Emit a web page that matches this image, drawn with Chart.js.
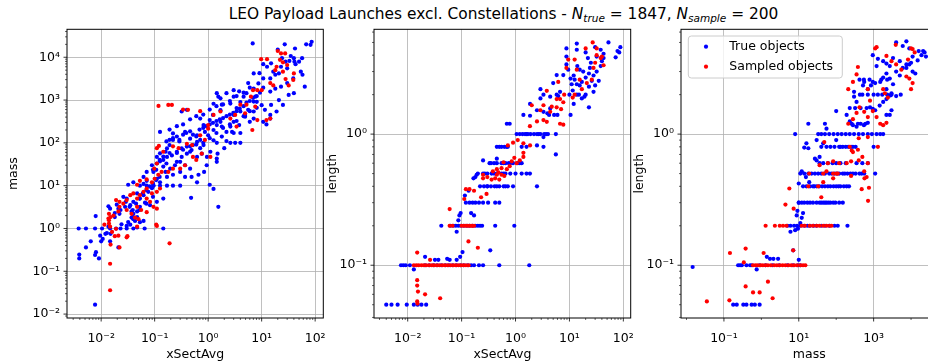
<!DOCTYPE html>
<html>
<head>
<meta charset="utf-8">
<script src="https://cdn.jsdelivr.net/npm/chart.js@4.4.1/dist/chart.umd.min.js"></script>
<style>
  html, body { margin: 0; padding: 0; background: #fff; }
  body { width: 928px; height: 363px; overflow: hidden; position: relative; font-family: "DejaVu Sans", sans-serif; }
  #title { position: absolute; left: 0; top: 5px; width: 1007px; text-align: center; font-size: 15.4px; line-height: 18px; color: #000; white-space: nowrap; }
  #title sub { font-size: 10.5px; vertical-align: -3px; line-height: 0; }
  canvas { position: absolute; top: 0; }
</style>
</head>
<body>
<div id="title">LEO Payload Launches excl. Constellations - <i>N</i><sub><i>true</i></sub> = 1847, <i>N</i><sub><i>sample</i></sub> = 200</div>
<canvas id="c1" width="340" height="363" style="left:0"></canvas>
<canvas id="c2" width="330" height="363" style="left:310px"></canvas>
<canvas id="c3" width="330" height="363" style="left:620px"></canvas>
<script>
// labelled decades (exponents) per axis
const xsectDecades = [-2, -1, 0, 1, 2];
const massDecades = [-2, -1, 0, 1, 2, 3, 4];
const lengthDecades = [-1, 0];
const massDecadesWide = [-1, 1, 3];

// xSectAvg vs mass
const trueXsectMass = [
  [0.0039,0.245],[0.0039,0.2],[0.0077,0.0166],[0.0052,0.36],[0.0064,0.5],[0.0079,1.95],[0.0091,0.2],[0.008,0.28],
  [0.0077,0.24],[0.0107,0.57],[0.0096,0.68],[0.012,0.75],[0.01,0.5],[0.0137,1.1],[0.0147,2.9],[0.018,2.3],
  [0.0038,1],[0.0052,1],[0.0077,1],[0.0104,1],[0.0147,1],[0.019,1],[0.023,1],[0.03,1],[0.04,1],[0.065,1],[0.145,1],
  [0.0128,0.78],[0.0147,0.5],[0.015,0.75],[0.021,0.36],[0.0137,3.3],[0.0196,3.6],[0.032,1.41],[0.035,1.23],
  [0.023,2.7],[0.024,1.25],[0.037,1.8],[0.04,2.2],[0.043,1.5],[0.047,1.06],[0.062,1.5],[0.11,4.2],[0.145,5.0],[0.48,5.2],
  [6.8,21000],[27,20000],[68,20000],[86,23000],[82,19500],[42,16000],[20,15000],[35,10700],[40,9500],[24,9500],
  [28,7900],[15,7200],[12.6,6000],[10.7,6900],[16.5,4600],[21,4200],[33,8200],[41,7900],[43,6900],[54,4600],
  [58,3900],[64,2050],[39,3200],[30,2500],[23,2050],[18,1850],[14.5,1580],[10.7,3200],[8.7,2450],[9.1,4250],
  [7.1,1860],[5.2,1450],[4.6,1200],[4.0,900],[3.0,1200],[2.6,830],[2.2,1450],[1.55,1200],[1.45,1450],[1.8,780],
  [1.7,580],[1.23,450],[1.07,340],[3.4,650],[4,540],[4.9,450],[5.6,590],[7.1,540],[8.1,910],[10,760],[11.5,590],
  [14.5,450],[10.7,310],[12.3,270],[14.5,370],[19,540],[25,770],[32,1320],[3.0,310],[2.6,240],[2.2,180],[1.8,240],
  [1.7,310],[1.45,260],[1.26,200],[1.0,150],[0.87,180],[0.71,117],[0.62,150],[0.52,89],[0.46,125],[0.82,260],
  [0.71,370],[0.4,590],[0.32,540],[0.126,180],[0.22,166],[0.37,180],[0.29,117],[0.22,117],[0.19,89],[0.17,74],
  [0.16,62],[0.126,57],[0.11,47],[0.145,40],[0.17,47],[0.21,51],[0.26,62],[0.32,74],[0.4,56],[0.49,68],[0.62,47],
  [0.76,56],[0.95,47],[1.45,43],[1.45,36],[1.1,62],[2.6,100],[3.2,100],[4.0,100],[0.3,36],[0.37,30],[0.46,25],
  [0.24,30],[0.195,25],[0.16,21],[0.17,16],[0.22,18],[0.3,21],[0.37,16],[0.49,16],[0.089,30],[0.071,21],[0.062,16],
  [0.11,14.5],[0.126,12],[0.095,10],[0.053,10],[0.071,10],[0.095,10],[0.126,10],[0.17,10],[0.22,10],[0.3,10],
  [0.62,12],[1.07,10.5],[1.26,8.4],[1.55,3.2],[0.089,8.7],[0.076,7.2],[0.062,6.0],[0.053,5.0],[0.047,6.6],
  [0.04,4.2],[0.035,3.5],[0.03,5.0],[0.028,3.2],[0.037,2.5],[0.047,2.5],[0.053,3.2],[0.066,4.0],[0.082,3.5],
  [0.022,2.2],[0.021,2.9],[0.018,1.85],[0.04,1.65],[0.047,1.85],[0.053,1.4],[0.03,1.15],[0.071,13],[0.062,11],
  [0.04,12],[0.032,10.5],[0.095,21],[0.11,33],[0.126,37],[1.26,820],[1.7,1100],[3,1700],[3.8,1600],[5.6,2500],
  [7.1,4200],[14.5,3200],[18,3900],[23,6000],[30,5500],[50,7900],[57,9500],[40,1450],[15,770],[21,1000],[7.6,1200],
  [7.1,920],[6,310],[4.9,410],[7.1,370],[3,450],[3.8,260],[4,170],[3,170],[1.8,140],[2.2,110],[1.45,100],[1.26,115],
  [0.82,89],[0.71,75],[0.62,105],[0.46,62],[0.4,82],[0.32,47],[0.26,36],[0.84,21],[0.66,18],[0.94,30],[1.5,56],
  [2.0,75],[2.8,180],
  [0.166,108],[0.19,118],[0.22,129],[0.26,141],[0.29,108],[0.34,155],[0.39,170],[0.46,186],[0.52,155],[0.6,141],
  [0.69,204],[0.81,224],[0.93,245],[1.07,269],[1.23,294],[1.43,324],[1.65,355],[1.9,380],[2.2,420],[2.55,457],
  [2.95,500],[3.4,550],[3.9,630],[4.6,720],[5.2,870],[6.0,950],[6.9,1130],[8.1,1240],[9.3,1490],[10.7,1950],
  [0.145,48],[0.19,58],[0.26,58],[0.34,69],[0.46,83],[0.6,91],[0.81,100],[1.07,129],[1.43,170],[1.9,224],
  [2.55,269],[3.4,324],[4.6,420],[6.0,550],[8.1,660],
  [0.19,204],[0.26,245],[0.34,269],[0.46,355],[0.6,420],[0.81,457],[1.07,600],[1.43,720],[1.9,790],[2.55,950],
  [3.4,1240],[4.6,1490],[6.0,1950],
  [0.026,5.5],[0.029,4.2],[0.034,3.2],[0.039,2.7],[0.045,3.8],[0.052,5.0],[0.06,6.6],[0.07,7.9],[0.081,9.6],
  [0.093,11.3],[0.107,13.5],[0.124,16],[0.052,2.7],[0.07,3.8],[0.093,5.5],[0.039,1.86],
  [0.107,23.5],[0.145,28],[0.124,40],[0.166,33],[0.093,23.5]
];
const sampleXsectMass = [
  [12.6,9000],[9.8,9000],[20,14000],[23,12300],[27.5,12300],[22,8700],[25,7600],[30,6600],[19,6000],[18,5000],
  [25,4600],[28,3100],[32,2200],[40,4200],[39,2950],[14.5,2500],[16.5,2200],[10,1700],[8.3,1700],[6.9,1700],
  [6.3,1200],[5.2,780],[4.0,780],[7.6,700],[4.9,490],[8.3,340],[12.3,340],[14.5,370],[6.7,200],[3.4,240],[3.2,450],
  [2.6,370],[1.7,540],[1.26,450],[1.0,260],[1.0,215],[1.1,47],[0.87,117],[0.71,150],[0.118,730],[0.18,770],
  [0.21,770],[0.34,600],[0.42,590],[0.71,550],[0.11,75],[0.12,85],[0.145,62],[0.22,83],[0.28,75],[0.4,95],[0.5,89],
  [0.52,47],[0.6,40],[0.76,56],[0.37,30],[0.3,25],[0.22,25],[0.18,21],[0.135,21],[0.117,18],[0.1,14.5],[0.089,12],
  [0.098,25],[0.11,33],[0.126,8.6],[0.11,7.2],[0.089,6.6],[0.071,8.6],[0.062,7.2],[0.053,6.0],[0.047,5.0],[0.04,6.6],
  [0.071,5.0],[0.082,4.2],[0.095,3.2],[0.11,2.9],[0.035,6],[0.03,4.6],[0.026,3.8],[0.022,3.2],[0.021,2.5],[0.017,2.0],
  [0.015,1.85],[0.019,4.6],[0.022,4.2],[0.03,2.7],[0.037,2.2],[0.043,1.8],[0.05,1.65],[0.047,3.2],[0.056,2.7],
  [0.071,2.4],[0.0115,1.23],[0.0137,1.7],[0.016,0.83],[0.018,0.66],[0.031,0.66],[0.047,1.1],[0.11,1.15],[0.022,0.36],
  [0.0147,0.15],[0.0147,0.036],[0.19,0.45],[0.0147,1.1],[0.019,0.98],[0.053,13],[0.047,10.5],[0.071,14],[0.014,2.2],
  [0.014,1.55],[0.014,1.3],[0.015,0.42],[0.021,0.68],[0.03,0.62],[0.107,1.23]
];

// xSectAvg vs length
const trueXsectLength = [
  [0.004,0.05],[0.005,0.05],[0.0065,0.05],[0.0096,0.05],[0.013,0.05],[0.0153,0.05],[0.018,0.05],[0.022,0.05],
  [0.0075,0.1],[0.0083,0.1],[0.0092,0.1],[0.011,0.1],[0.021,0.1],[0.025,0.1],[0.03,0.1],[0.035,0.1],[0.042,0.1],
  [0.05,0.1],[0.058,0.1],[0.068,0.1],[0.08,0.1],[0.095,0.1],[0.11,0.1],[0.13,0.1],[0.15,0.1],[0.17,0.1],[0.21,0.1],
  [0.25,0.1],[0.5,0.1],[1.8,0.1],
  [0.013,0.093],[0.021,0.116],[0.032,0.11],[0.037,0.11],[0.054,0.112],[0.06,0.11],[0.081,0.11],[0.094,0.116],
  [0.104,0.126],[0.34,0.13],
  [0.042,0.2],[0.062,0.2],[0.07,0.2],[0.078,0.2],[0.087,0.2],[0.097,0.2],[0.11,0.2],[0.125,0.2],[0.14,0.2],[0.16,0.2],
  [0.18,0.2],[0.2,0.2],[0.22,0.2],[0.24,0.2],[0.42,0.2],[0.95,0.2],
  [0.081,0.18],[0.087,0.22],[0.091,0.24],[0.096,0.25],[0.15,0.25],[0.17,0.24],
  [0.12,0.3],[0.14,0.3],[0.16,0.3],[0.18,0.3],[0.21,0.3],[0.25,0.3],[0.31,0.3],[0.42,0.3],[0.5,0.3],
  [0.115,0.34],[0.135,0.37],[0.166,0.46],[0.18,0.47],[0.19,0.49],[0.25,0.63],[0.33,0.6],
  [0.22,0.4],[0.26,0.4],[0.3,0.4],[0.35,0.4],[0.41,0.4],[0.5,0.4],[0.6,0.4],[0.72,0.4],[0.9,0.4],[2.5,0.4],
  [0.2,0.5],[0.25,0.5],[0.3,0.5],[0.36,0.5],[0.45,0.5],[0.55,0.5],[0.65,0.5],[0.8,0.5],[1.3,0.5],[1.6,0.5],[1.85,0.5],
  [0.35,0.6],[0.45,0.6],[0.55,0.6],[0.65,0.6],[0.75,0.6],[0.9,0.6],[1.1,0.6],[1.3,0.6],[0.45,0.65],
  [0.45,0.8],[0.55,0.8],[0.62,0.8],[0.72,0.8],[1.3,0.8],[1.6,0.8],[2.5,0.82],[3.3,0.8],[5.6,0.7],
  [1.05,1],[1.2,1],[1.35,1],[1.5,1],[1.7,1],[1.9,1],[2.2,1],[2.5,1],[2.9,1],[3.4,1],[4,1],[5.6,1],[3.3,0.95],
  [0.69,1.2],[0.78,1.2],[1.4,1.4],[1.86,1.38],[2.5,1.52],[3.3,1.48],[3.9,1.44],[4.2,1.4],[5.2,1.4],[6,1.4],[4.4,1.57],
  [1.86,1.7],[2.9,1.87],[2.9,2.2],[3.3,2.0],[4.4,1.93],[5.8,2.0],[6.7,2.1],[6.2,1.95],[5,2.45],[5.8,2.82],[7.7,2.82],
  [8.8,3.4],[9.5,3.1],[8.8,4.5],[8.8,3.9],[13.7,4.9],[13.7,4.4],[10.5,2.65],[12.5,2.6],[13.7,2.4],[15.5,2.35],
  [11.5,2.15],[13.7,2.0],[17,1.87],[19,1.93],[12,1.7],[10.5,1.4],[23,1.6],[15.5,3.1],[18,3.0],[23,2.9],[24,3.2],
  [28,2.8],[32,3.0],[38,3.3],[40,3.6],[43,3.8],[35,2.55],[30,2.35],[26,2.55],[23,2.3],[28,2.1],[20,4.2],[22,3.8],
  [30,4.6],[32,3.9],[38,4.4],[43,4.1],[53,5.0],[72,3.85],[78,4.3],[84,4.2],[88,4.6],
  [0.27,0.5],[0.4,0.5],[0.6,0.5],[1.0,0.5],[0.4,0.6],[0.6,0.6],[0.8,0.6],[1.2,0.6],[0.5,0.8],[0.68,0.8],
  [0.3,0.4],[0.45,0.4],[0.65,0.4],[1.6,1],[2.7,1],[3.7,1],[10,2.0],[15,2.0],[20,2.0],[11,2.4],[17,2.5],
  [20,2.7],[25,3.5],[14,3.3],[12,2.8]
];
const sampleXsectLength = [
  [0.013,0.1],[0.0145,0.1],[0.016,0.1],[0.018,0.1],[0.02,0.1],[0.022,0.1],[0.025,0.1],[0.028,0.1],[0.031,0.1],
  [0.035,0.1],[0.039,0.1],[0.044,0.1],[0.049,0.1],[0.055,0.1],[0.062,0.1],[0.07,0.1],[0.078,0.1],[0.087,0.1],
  [0.097,0.1],[0.108,0.1],[0.12,0.1],[0.135,0.1],
  [0.015,0.125],[0.026,0.11],[0.015,0.077],[0.015,0.07],[0.0155,0.063],[0.015,0.053],[0.0152,0.051],[0.021,0.06],
  [0.04,0.056],[0.06,0.268],[0.134,0.152],[0.2,0.136],
  [0.06,0.2],[0.068,0.2],[0.1,0.2],[0.11,0.2],[0.12,0.2],[0.13,0.2],[0.14,0.2],[0.15,0.2],[0.16,0.2],[0.17,0.2],
  [0.112,0.32],[0.12,0.38],[0.14,0.38],[0.17,0.37],[0.23,0.33],[0.29,0.35],[0.25,0.46],[0.36,0.45],[0.42,0.46],
  [0.45,0.49],[0.38,0.52],[0.45,0.54],[0.55,0.55],[0.62,0.48],[0.5,0.45],[0.6,0.61],[0.85,0.62],[0.95,0.66],
  [0.72,0.82],[0.9,0.86],[1.1,0.9],[1.4,0.85],[1.85,1.15],[2.5,1.25],[3.3,1.28],[3.8,1.24],[4.4,1.48],[5.8,1.6],
  [6.7,1.2],[7.7,1.18],[2,1.66],[2.9,1.52],[3.3,1.66],[4.7,1.62],[3.8,2.14],[6.2,2.5],[8.8,3.2],[9.5,3.7],[12.5,3.7],
  [13.7,3.1],[12.5,2.0],[11.5,1.9],[15.5,2.6],[17,2.2],[21,2.45],[26,2.6],[28,3.2],[30,3.5],[32,4.0],[38,3.8],
  [40,3.9],[43,3.35],[32,4.5],[27,5.0],[20,4.5],[8,2.0],[7.7,1.75],[5.8,1.85],[6.7,1.85],[7,1.55],[0.48,0.51],
  [0.55,0.49],[0.69,0.54],[0.78,0.57],[1.05,0.6],[1.2,0.63],[1.4,0.72],[1.86,0.82],[1.4,0.67],[0.25,0.49],[0.3,0.47]
];

// mass vs length
const trueMassLength = [
  [0.0146,0.097],
  [0.177,0.05],[0.22,0.05],[0.33,0.05],[0.4,0.05],[0.55,0.05],[0.67,0.05],[0.9,0.05],
  [0.24,0.1],[0.27,0.1],[0.3,0.1],[0.4,0.1],[0.5,0.1],[0.56,0.1],[0.9,0.1],[1.3,0.1],[2,0.1],[3,0.1],[5,0.1],[7,0.1],
  [9.5,0.1],[11,0.1],
  [0.75,0.093],[1.4,0.116],[1.7,0.112],[2.1,0.112],[2.8,0.112],[7.1,0.13],[10,0.11],[6,0.18],[8,0.185],[9.5,0.19],
  [11,0.21],[12,0.23],[13,0.25],[8.8,0.24],[9.2,0.26],[10,0.42],[10,0.3],
  [5,0.2],[6,0.2],[7.5,0.2],[9,0.2],[11,0.2],[14,0.2],[17,0.2],[20,0.2],[25,0.2],[30,0.2],[40,0.2],[50,0.2],[65,0.2],
  [90,0.2],[110,0.2],[200,0.2],
  [14,0.3],[17,0.3],[20,0.3],[24,0.3],[30,0.3],[36,0.3],[45,0.3],[55,0.3],[70,0.3],[83,0.3],
  [16,0.4],[20,0.4],[26,0.4],[35,0.4],[50,0.4],[70,0.4],[100,0.4],[130,0.4],[160,0.4],[220,0.4],
  [12,0.52],[15.5,0.47],[19,0.43],
  [18,0.5],[22,0.5],[27,0.5],[33,0.5],[40,0.5],[50,0.5],[65,0.5],[90,0.5],[120,0.5],[150,0.5],[200,0.5],[280,0.5],
  [420,0.5],[560,0.5],[1100,0.5],
  [36,0.6],[45,0.6],[60,0.6],[80,0.6],[100,0.6],[130,0.6],[180,0.6],[350,0.6],[500,0.6],[700,0.6],[27,0.65],
  [30,0.63],[36,0.67],
  [40,0.8],[55,0.8],[70,0.8],[90,0.8],[130,0.8],[210,0.8],[280,0.8],[1000,0.8],[16,0.85],[18,0.78],[30,0.9],
  [45,0.85],[100,0.9],[14,0.79],
  [8,1],[33,1],[40,1],[50,1],[65,1],[85,1],[110,1],[140,1],[180,1],[230,1],[300,1],[400,1],[520,1],[700,1],[900,1],
  [1200,1],[1500,1],[1800,1],
  [50,1.2],[55,1.1],[18,1.2],[100,1.5],[190,1.4],[230,1.25],[280,1.17],[350,1.14],[450,1.2],[550,1.17],[700,1.22],
  [300,2.1],[300,1.93],[350,1.76],[430,2.0],[520,2.35],[560,2.5],[700,2.2],[850,2.35],[950,2.5],[1100,2.45],
  [1500,2.5],[1800,2.7],[800,1.6],[950,1.56],[1100,1.52],[1450,1.65],[1800,1.76],[2200,1.85],[2800,1.97],[2200,1.4],
  [2700,1.4],[3000,1.52],[2200,2.9],[2700,2.65],[3300,2.4],[4000,3.0],[5000,2.8],[6000,3.2],[7500,3.2],[9000,3.4],
  [11000,3.0],[13000,2.9],[15000,3.65],[19000,4.0],[4000,5.0],[7500,5.1],[6000,4.7],[9000,4.5],[11000,3.9],
  [16000,4.3],[21000,4.3],[23000,4.2],[25000,3.9],[3300,3.8],[5000,3.6],[7500,3.4],[10000,3.5],[2200,2.2],
  [3000,2.05],[4000,1.95],[5300,2.0],[1800,3.6],[2200,3.45],[2700,3.3],[1200,3.3],[1300,3.75],[950,4.0],
  [120,0.8],[150,0.8],[180,0.8],[250,0.8],[330,0.8],
  [11,0.5],[14,0.5],[75,0.5],[105,0.5],[170,0.5],[240,0.5],[330,0.5],[480,0.5],
  [13,0.4],[24,0.4],[30,0.4],[42,0.4],[60,0.4],[85,0.4],[115,0.4],[190,0.4],
  [10,0.3],[12,0.3],[40,0.3],[50,0.3],[62,0.3],[95,0.3],[120,0.3],[150,0.3],
  [500,2.0],[700,2.0],[1000,2.0],[1300,2.0],[1700,2.0],[2300,2.0],[3000,2.0],
  [420,2.6],[550,2.6],[780,2.6],[1600,2.6],[2300,2.6],
  [230,1.58],[320,1.58],[450,1.58],[650,1.58],[260,1.2],[380,1.2],[600,1.2]
];
const sampleMassLength = [
  [0.035,0.053],[0.145,0.124],[0.14,0.054],[0.38,0.134],[0.34,0.105],[0.38,0.069],[0.6,0.062],[0.9,0.062],
  [1.15,0.124],[1.5,0.075],[2.0,0.056],[7.1,0.13],[5.6,0.385],[4.4,0.29],[7.3,0.27],
  [0.6,0.1],[0.7,0.1],[0.8,0.1],[0.95,0.1],[1.1,0.1],[1.3,0.1],[1.5,0.1],[1.8,0.1],[2.2,0.1],[2.6,0.1],[3.1,0.1],
  [3.7,0.1],[4.4,0.1],[5.3,0.1],[6.3,0.1],[7.5,0.1],[9,0.1],[11,0.1],[13,0.1],[15,0.1],
  [1.3,0.2],[2.3,0.2],[3.1,0.2],[3.8,0.2],[4.7,0.2],[12,0.2],[14.5,0.2],[19.5,0.2],[24,0.2],[30,0.2],[36,0.2],
  [45,0.2],[55,0.2],[67,0.2],[75,0.2],
  [40,0.33],[18,0.4],[33,0.4],[45,0.43],[83,0.46],[480,0.38],[750,0.39],[710,0.31],[45,0.5],[55,0.52],[110,0.5],
  [250,0.48],[650,0.47],[83,0.5],[100,0.5],[560,0.52],[570,0.46],[120,0.6],[190,0.6],[250,0.62],[700,0.6],
  [230,0.8],[280,0.73],[400,0.63],[500,0.67],[1300,0.8],[48,0.87],[400,0.93],[700,0.95],[210,1.2],[280,1.3],
  [350,1.45],[210,2.2],[280,2.5],[350,2.85],[380,3.25],[800,1.8],[950,1.5],[1200,1.35],[700,1.35],[560,1.48],
  [420,1.6],[1100,4.5],[1200,4.6],[1800,2.2],[2000,2.05],[2400,1.9],[1800,1.17],[2200,1.22],[1500,1.2],[2200,3.95],
  [3000,3.6],[4000,3.4],[5500,3.1],[7500,2.75],[9000,2.65],[10000,2.2],[11000,2.45],[8300,3.7],[11000,4.45],
  [12500,4.2],[700,2.2],[19,0.5],[36,0.58],[60,0.6],[83,0.62],[260,0.75],[380,0.76],[3900,4.8],[10000,4.5]
];

Chart.defaults.font.family = '"DejaVu Sans", sans-serif';
Chart.defaults.font.size = 12.5;
Chart.defaults.color = '#000';

const SUP = {'-': '\u207B', '0': '\u2070', '1': '\u00B9', '2': '\u00B2', '3': '\u00B3', '4': '\u2074'};
const decadeLabel = e => '10' + String(e).split('').map(c => SUP[c]).join('');

function isLabelled(v, decades) {
  const e = Math.log10(v), r = Math.round(e);
  return Math.abs(e - r) < 1e-9 && decades.includes(r);
}

function tickValues(min, max, subs) {
  const out = [];
  for (let e = Math.floor(Math.log10(min)); e <= Math.ceil(Math.log10(max)); e++) {
    for (const s of subs) {
      const v = s * Math.pow(10, e);
      if (v >= min && v <= max) out.push(v);
    }
  }
  return out;
}

const ALL_SUBS = [1, 2, 3, 4, 5, 6, 7, 8, 9];
const H = 363;
const DOT = 2.1;

function logAxis(cfg, isX, area) {
  return {
    type: 'logarithmic',
    position: isX ? 'bottom' : 'left',
    min: cfg.min,
    max: cfg.max,
    title: {
      display: true, text: cfg.title, color: '#000',
      padding: isX ? {top: 0, bottom: 1} : {top: cfg.titlePad, bottom: 0}
    },
    grid: {
      drawTicks: false,
      lineWidth: 0.8,
      color: ctx => (ctx.tick && isLabelled(ctx.tick.value, cfg.decades)) ? '#b0b0b0' : 'rgba(0,0,0,0)'
    },
    border: {display: false},
    ticks: {
      autoSkip: false, maxRotation: 0, minRotation: 0,
      padding: isX ? 13 : 7,
      color: '#000',
      callback: v => isLabelled(v, cfg.decades) ? decadeLabel(Math.round(Math.log10(v))) : ''
    },
    afterBuildTicks: s => { s.ticks = tickValues(cfg.min, cfg.max, cfg.subs).map(v => ({value: v})); },
    afterFit: s => {
      if (isX) s.height = H - area.bottom; else s.width = area.left;
      s.paddingLeft = s.paddingRight = s.paddingTop = s.paddingBottom = 0;
    }
  };
}

// spines, outward tick marks and (optionally) the legend box
function framePlugin(xCfg, yCfg, legend) {
  return {
    id: 'frame',
    afterDraw(chart) {
      const {ctx, chartArea: a} = chart;
      ctx.save();
      ctx.strokeStyle = '#000';
      [['x', xCfg], ['y', yCfg]].forEach(([id, cfg]) => {
        const s = chart.scales[id];
        s.ticks.forEach(t => {
          const major = isLabelled(t.value, cfg.decades);
          const len = major ? 3.5 : 2;
          const p = s.getPixelForValue(t.value);
          ctx.lineWidth = major ? 0.8 : 0.6;
          ctx.beginPath();
          if (id === 'x') { ctx.moveTo(p, a.bottom); ctx.lineTo(p, a.bottom + len); }
          else { ctx.moveTo(a.left - len, p); ctx.lineTo(a.left, p); }
          ctx.stroke();
        });
      });
      ctx.lineWidth = 1;
      ctx.strokeRect(a.left, a.top, a.right - a.left, a.bottom - a.top);

      if (legend) {
        const bx = a.left + 7.3, by = a.top + 6.7, bw = 154, bh = 42;
        ctx.fillStyle = 'rgba(255,255,255,0.8)';
        ctx.strokeStyle = '#cccccc';
        ctx.lineWidth = 1;
        ctx.beginPath();
        if (ctx.roundRect) ctx.roundRect(bx, by, bw, bh, 3); else ctx.rect(bx, by, bw, bh);
        ctx.fill();
        ctx.stroke();
        ctx.font = '12.5px "DejaVu Sans"';
        ctx.textBaseline = 'middle';
        chart.data.datasets.forEach((ds, i) => {
          const yy = by + 10.7 + i * 20;
          ctx.fillStyle = ds.backgroundColor;
          ctx.beginPath();
          ctx.arc(a.left + 25, yy, DOT, 0, 2 * Math.PI);
          ctx.fill();
          ctx.fillStyle = '#000';
          ctx.fillText(ds.label, a.left + 48.3, yy);
        });
      }
      ctx.restore();
    }
  };
}

function scatterPanel(id, trueData, sampleData, xCfg, yCfg, area, legend) {
  const canvas = document.getElementById(id);
  const toXY = arr => arr.map(([x, y]) => ({x, y}));
  const pointStyle = color => ({
    backgroundColor: color, pointBackgroundColor: color,
    borderWidth: 0, pointBorderWidth: 0, pointRadius: DOT, pointHoverRadius: DOT
  });
  return new Chart(canvas, {
    type: 'scatter',
    data: {
      datasets: [
        Object.assign({label: 'True objects', data: toXY(trueData), order: 1}, pointStyle('#0000ff')),
        Object.assign({label: 'Sampled objects', data: toXY(sampleData), order: 0}, pointStyle('#ff0000'))
      ]
    },
    options: {
      responsive: false,
      animation: false,
      events: [],
      layout: {padding: {left: 0, top: area.top, right: canvas.width - area.right, bottom: 0}},
      plugins: {legend: {display: false}, tooltip: {enabled: false}},
      scales: {x: logAxis(xCfg, true, area), y: logAxis(yCfg, false, area)}
    },
    plugins: [framePlugin(xCfg, yCfg, legend)]
  });
}

const xsectAxis = {title: 'xSectAvg', min: 0.0023, max: 142, decades: xsectDecades, subs: ALL_SUBS};
const lengthAxis = {title: 'length', min: 0.0396, max: 6.3, decades: lengthDecades, subs: ALL_SUBS};

scatterPanel('c1', trueXsectMass, sampleXsectMass,
  xsectAxis,
  {title: 'mass', min: 0.0081, max: 45000, decades: massDecades, subs: ALL_SUBS, titlePad: 6.5},
  {left: 67, right: 323.3, top: 29.3, bottom: 318}, false);

scatterPanel('c2', trueXsectLength, sampleXsectLength,
  Object.assign({}, xsectAxis, {min: 0.00237, max: 137}),
  Object.assign({}, lengthAxis, {titlePad: 15}),
  {left: 64, right: 320.7, top: 29.3, bottom: 318}, false);

scatterPanel('c3', trueMassLength, sampleMassLength,
  {title: 'mass', min: 0.00713, max: 50900, decades: massDecadesWide, subs: [1]},
  Object.assign({}, lengthAxis, {titlePad: 12.5}),
  {left: 61, right: 317.5, top: 29.3, bottom: 318}, true);
</script>
</body>
</html>
